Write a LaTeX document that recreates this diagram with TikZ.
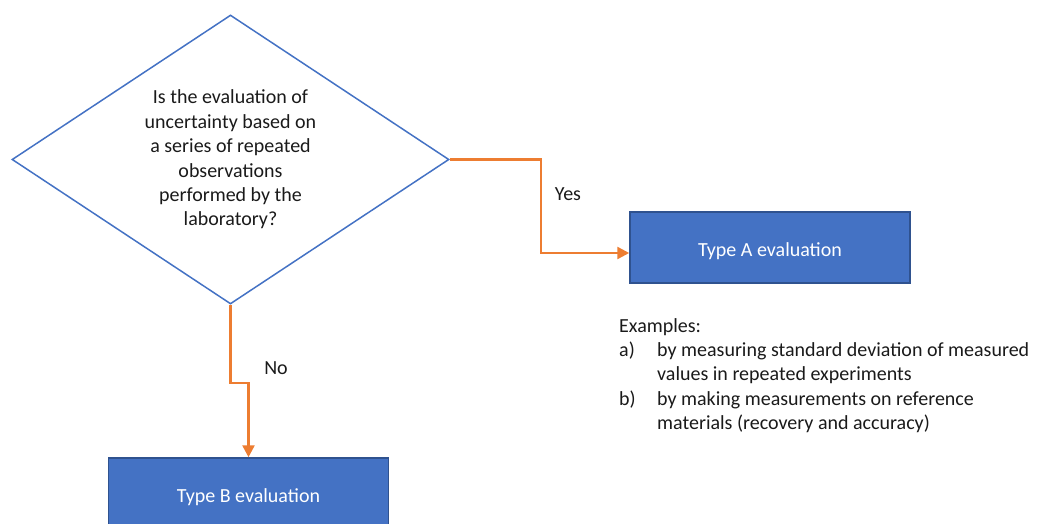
\documentclass[tikz,border=0pt]{standalone}
\usepackage{fontspec}
\setmainfont{Carlito}
\usetikzlibrary{shapes.geometric,arrows.meta}
\definecolor{qblue}{HTML}{4472C4}
\definecolor{bdark}{HTML}{2F528F}
\definecolor{corange}{HTML}{ED7D31}
\definecolor{txt}{HTML}{1A1A1A}
\begin{document}
\begin{tikzpicture}[x=1pt,y=-1pt,
  font=\fontsize{20}{24.4}\selectfont,
  decision/.style={diamond, shape aspect=1.51, draw=qblue, line width=1.5pt, minimum width=437pt,
    minimum height=289pt, inner sep=0pt, align=center, text=txt},
  stepbox/.style={rectangle, fill=qblue, draw=bdark, line width=1.5pt, text=white,
    minimum width=280pt, minimum height=71pt, inner sep=0pt, text height=21pt, text depth=4pt},
  flow/.style={draw=corange, line width=2.5pt, -{Triangle[length=12pt,width=12pt]}},
  lbl/.style={inner sep=0pt, text=txt}]
\useasboundingbox (0,0) rectangle (1044,524);
\clip (0,0) rectangle (1044,524);
\node[decision] (q) at (230.5,159.5) {Is the evaluation of\\uncertainty based on\\a series of repeated\\observations\\performed by the\\laboratory?};
\node[stepbox] (A) at (770,247.5) {Type A evaluation};
\node[stepbox] (B) at (248.5,493.5) {Type B evaluation};
\draw[flow] (q.east) -- ++(91,0) |- ([yshift=-5.5pt]A.west);
\draw[flow] (q.south) -- ++(0,78) -| (B.north);
\node[lbl] (yes) at (568,194) {Yes};
\node[lbl] (no) at (276,368) {No};
\node[lbl, anchor=north west, align=left] (ex) at (619,318) {Examples:\\
\makebox[38pt][l]{a)}by measuring standard deviation of measured\\
\hspace*{38pt}values in repeated experiments\\
\makebox[38pt][l]{b)}by making measurements on reference\\
\hspace*{38pt}materials (recovery and accuracy)};
\end{tikzpicture}
\end{document}
